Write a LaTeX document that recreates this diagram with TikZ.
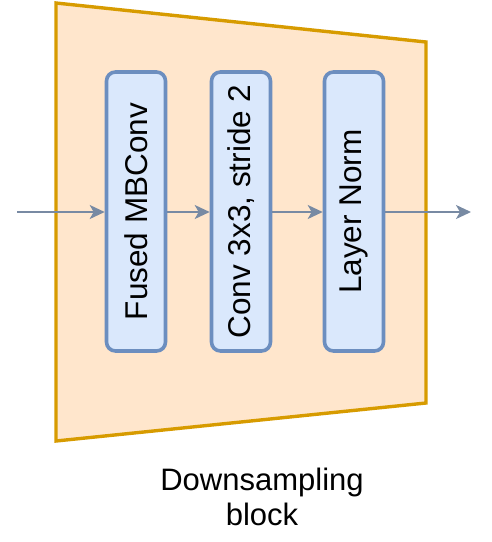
\documentclass[tikz,border=0pt]{standalone}
\usepackage{fontspec}
\setmainfont{Liberation Sans}
\usetikzlibrary{arrows.meta}
\definecolor{trapfill}{HTML}{FFE6CC}
\definecolor{trapdraw}{HTML}{D79B00}
\definecolor{boxfill}{HTML}{DAE8FC}
\definecolor{boxdraw}{HTML}{6C8EBF}
\definecolor{arrowc}{HTML}{788AA3}
\begin{document}
\begin{tikzpicture}[x=1pt,y=-1pt,
  blockbox/.style={draw=boxdraw, fill=boxfill, line width=3.6pt, rounded corners=9pt,
    minimum width=59pt, minimum height=279pt, inner sep=0pt, anchor=center,
    font=\fontsize{31.5}{37}\selectfont},
  flow/.style={draw=arrowc, line width=2pt, -{Stealth[length=15pt,width=14pt,inset=4pt]}},
  label/.style={align=center, font=\fontsize{31}{35}\selectfont}]
\useasboundingbox (0,0) rectangle (492,542);
\draw[fill=trapfill, draw=trapdraw, line width=3.4pt, line join=miter]
  (56,3) -- (426,42) -- (426,403) -- (56,441) -- cycle;
\node[blockbox] (b1) at (136,211.5) {\rotatebox{90}{Fused MBConv}};
\node[blockbox] (b2) at (241,211.5) {\rotatebox{90}{Conv 3x3, stride 2}};
\node[blockbox] (b3) at (354,211.5) {\rotatebox{90}{Layer Norm}};
\coordinate (in) at (17,212);
\coordinate (out) at (471,212);
\draw[flow] (in) -- (b1.west |- in);
\draw[flow] (b1.east |- in) -- (b2.west |- in);
\draw[flow] (b2.east |- in) -- (b3.west |- in);
\draw[flow] (b3.east |- in) -- (out);
\node[label] (cap) at (262,497) {Downsampling\\block};
\end{tikzpicture}
\end{document}
